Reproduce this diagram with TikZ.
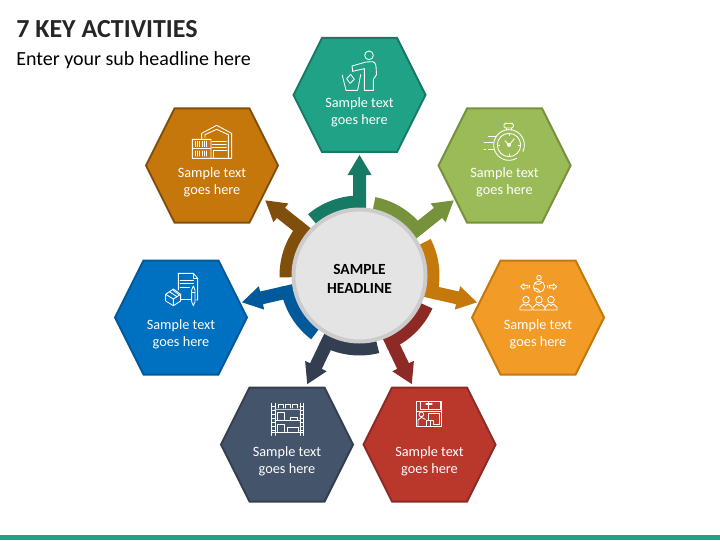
\documentclass[tikz,border=0pt]{standalone}
\usepackage{fontspec}
\setmainfont{Carlito}
\definecolor{tealF}{HTML}{1FA285}\definecolor{tealD}{HTML}{167A64}
\definecolor{greenF}{HTML}{9BBB59}\definecolor{greenD}{HTML}{76933C}
\definecolor{orangeF}{HTML}{F29B26}\definecolor{orangeD}{HTML}{C5780C}
\definecolor{redF}{HTML}{BA372C}\definecolor{redD}{HTML}{8E2A25}
\definecolor{slateF}{HTML}{44546A}\definecolor{slateD}{HTML}{333F50}
\definecolor{blueF}{HTML}{0070C0}\definecolor{blueD}{HTML}{00599A}
\definecolor{brownF}{HTML}{C5770C}\definecolor{brownD}{HTML}{7F4F0B}
\tikzset{
  hexlabel/.style={text=white,align=center,inner sep=0pt,font=\fontsize{10.7}{12.75}\selectfont},
  hubnode/.style={circle,draw=black!20,fill=black!10.5,line width=3pt,minimum size=99pt,inner sep=0pt,outer sep=0pt},
  hubtextstyle/.style={align=center,inner sep=0pt,font=\bfseries\fontsize{11.6}{13.7}\selectfont,text=black},
  icon/.style={draw=white,line width=.65pt,line join=round,line cap=round},
  hexshape/.style={line width=1.5pt,line join=miter}
}
\newcommand{\hexa}[5]{%
  \begin{scope}[shift={(#2,#3)}]
    \path[hexshape,fill=#4,draw=#5] (-66,0)--(-37.5,57)--(37.5,57)--(66,0)--(37.5,-57)--(-37.5,-57)--cycle;
    \node[hexlabel] (#1) at (0,-17) {Sample text\\goes here};
  \end{scope}}
\newcommand{\spoke}[2]{%
  \begin{scope}[shift={(hubc)},rotate=#1]
    \fill[#2] (40:66)--(40:80) arc[start angle=40,end angle=-4.66,radius=60pt]--(-4.66:66) arc[start angle=-4.66,end angle=40,radius=49.5pt]--cycle;
    \fill[#2] (60,-6.5)--(100.5,-6.5)--(100.5,-12)--(120.5,0)--(100.5,12)--(100.5,6.5)--(60,6.5)--cycle;
  \end{scope}}
\begin{document}
\begin{tikzpicture}[x=.75pt,y=.75pt]
\useasboundingbox (0,0) rectangle (720,540);
\fill[tealF] (0,0) rectangle (720,5);
\node[anchor=west,inner sep=0pt,font=\bfseries\fontsize{19.5}{22}\selectfont,text=black!85] (title) at (16,510.5) {7 KEY ACTIVITIES};
\node[anchor=west,inner sep=0pt,font=\fontsize{15}{17}\selectfont,text=black] (sub) at (16,479.5) {Enter your sub headline here};
\coordinate (hubc) at (359.5,264.5);
\hexa{teal}{359.5}{445}{tealF}{tealD}
\hexa{green}{504.5}{374.5}{greenF}{greenD}
\hexa{brown}{212}{374.5}{brownF}{brownD}
\hexa{blue}{181}{222.5}{blueF}{blueD}
\hexa{orange}{538}{222.5}{orangeF}{orangeD}
\hexa{slate}{287}{95.5}{slateF}{slateD}
\hexa{red}{429.5}{95.5}{redF}{redD}
\spoke{90}{tealD}
\spoke{38.57}{greenD}
\spoke{-12.86}{orangeD}
\spoke{-64.29}{redD}
\spoke{-115.71}{slateD}
\spoke{-167.14}{blueD}
\spoke{141.43}{brownD}
\node[hubnode] (hub) at (hubc) {};
\node[hubtextstyle] (hubtext) at (359.5,261) {SAMPLE\\HEADLINE};
% teal icon
\begin{scope}[shift={(280,510)},x=.25pt,y=-.25pt]
\draw[icon] (267,76) circle (13);
\draw[icon] (216,108)--(258,96)--(278,95) .. controls (288,97) and (289,105) .. (289,135)--(280,148)--(280,181)--(253,181)--(253,116)--(218,124)--cycle;
\draw[icon] (187,136)--(198,181)--(233,181)--(242,134);
\draw[icon] (212,133)--(223,148)--(210,160)--(200,146)--cycle;
\end{scope}
% stopwatch
\begin{scope}[shift={(280,510)},x=.25pt,y=-.25pt]
\draw[icon] plot[smooth,domain=60:385,samples=40] ({687+46*cos(\x)},{345+46*sin(\x)});
\draw[icon] (687,345) circle (35);
\draw[icon,rounded corners=1pt] (672,280)rectangle(700,294);
\draw[icon] (680,294)--(680,300) (694,294)--(694,300);
\draw[icon] (675,332)--(687,346)--(703,326);
\draw[icon] (687,345) circle (5);
\draw[icon] (687,312)--(687,316) (687,372)--(687,376) (655,345)--(659,345) (715,345)--(719,345);
\draw[icon] (625,320)--(648,320) (612,338)--(640,338) (612,358)--(616,358) (625,358)--(640,358);
\end{scope}
% warehouse
\begin{scope}[shift={(130,440)},x=.25pt,y=-.25pt]
\draw[icon] (215,116)--(215,100)--(260,76)--(305,100)--(305,175)--(187,175)--(187,118)--(243,118)--(243,175);
\draw[icon] (225,112)--(225,104)--(260,88)--(295,104)--(295,175);
\draw[icon] (187,146)--(243,146);
\draw[icon] (195,124)--(195,140) (202,124)--(202,140) (209,124)--(209,140) (216,124)--(216,140) (223,124)--(223,140) (230,124)--(230,140);
\draw[icon] (195,153)--(195,168) (202,153)--(202,168) (209,153)--(209,168) (216,153)--(216,168) (223,153)--(223,168) (230,153)--(230,168);
\draw[icon,line width=.9pt] (247,124)--(288,124) (247,134)--(288,134) (247,143)--(288,143);
\draw[icon] (250,152)--(290,152) (250,152)--(250,175);
\end{scope}
% document and box
\begin{scope}[shift={(130,440)},x=.25pt,y=-.25pt]
\draw[icon] (145,570)--(145,520)--(190,520)--(203,535)--(203,600)--(198,600);
\draw[icon] (190,520)--(190,535)--(203,535);
\draw[icon] (152,598)--(182,598);
\draw[icon] (150,540)--(190,540) (150,550)--(190,550) (150,562)--(178,562);
\draw[icon] (107,583)--(130,567)--(152,583)--(152,603)--(130,617)--(107,603)--cycle;
\draw[icon] (107,583)--(130,597)--(152,583) (130,597)--(130,617) (118,575)--(141,590) (128,570)--(148,585);
\draw[icon] (185,570)--(190,558)--(195,570)--(195,605)--(190,617)--(185,605)--cycle;
\draw[icon] (185,577)--(195,577);
\end{scope}
% orange icon
\begin{scope}[shift={(470,285)},x=.25pt,y=-.25pt]
\draw[icon] (207,95) circle (17);
\draw[icon] (207,68) circle (7);
\draw[icon] (195,85) .. controls (205,92) and (212,85) .. (218,82) (192,100) .. controls (203,98) and (208,108) .. (212,111);
\draw[icon] (152,95)--(162,86)--(162,91)--(174,91)--(174,99)--(162,99)--(162,104)--cycle;
\draw[icon] (260,95)--(250,86)--(250,91)--(238,91)--(238,99)--(250,99)--(250,104)--cycle;
\draw[icon] (179,91)--(179,99) (233,91)--(233,99);
\foreach \px in {168,207,243}{
  \draw[icon] (\px,134) circle (10);
  \draw[icon] (\px-18,165)--(\px-18,157)--(\px-7,147)--(\px,152)--(\px+7,147)--(\px+18,157)--(\px+18,165)--cycle;
}
\end{scope}
% shelf icon
\begin{scope}[shift={(220,160)},x=.25pt,y=-.25pt]
\draw[icon] (155,70)--(155,166) (165,70)--(165,166) (240,70)--(240,166) (250,70)--(250,166);
\foreach \ty in {78,90,102,114,126,138,150}{\draw[icon] (155,\ty)--(165,\ty) (240,\ty)--(250,\ty);}
\draw[icon,line width=1.1pt,draw=white!70!slateF] (165,88)--(240,88);
\draw[icon] (165,122)--(240,122) (155,157)--(250,157);
\draw[icon] (175,84)--(175,73)--(190,73)--(190,84) (197,84)--(197,73)--(211,73)--(211,84) (218,84)--(218,73)--(232,73)--(232,84);
\draw[icon] (172,119)--(172,98)--(194,98)--(194,119) (211,119)--(211,111)--(233,111)--(233,119);
\draw[icon] (172,154)--(172,132)--(194,132)--(194,154) (203,154)--(203,142)--(236,142)--(236,154);
\end{scope}
% red icon
\begin{scope}[shift={(220,160)},x=.25pt,y=-.25pt]
\draw[icon] (590,65) rectangle (665,140);
\draw[icon] (590,93)--(665,93);
\draw[icon] (600,65)--(600,88)--(662,88)--(662,65) (626,65)--(626,88);
\draw[icon,line width=.9pt] (618,72)--(636,72);
\draw[icon] (625,122)--(625,100)--(658,100)--(658,134)--(640,134)--(640,122)--cycle;
\draw[icon] (618,138)--(618,122)--(632,122)--(632,138);
\draw[icon] (604,103) circle (7);
\draw[icon] (594,136)--(594,120)--(604,112)--(616,118);
\end{scope}
\end{tikzpicture}
\end{document}
